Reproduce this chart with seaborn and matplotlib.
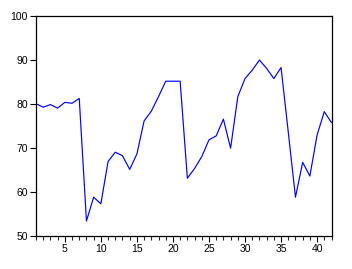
import matplotlib
matplotlib.use("Agg")
import matplotlib.pyplot as plt
import seaborn as sns
import pandas as pd
from matplotlib.ticker import MultipleLocator

obs = list(range(1, 43))
values = [80.0, 79.2, 79.8, 79.0, 80.3, 80.1, 81.2, 53.4, 58.8, 57.3,
          66.9, 69.0, 68.2, 65.1, 68.6, 76.1, 78.3, 81.6, 85.1, 85.1,
          85.1, 63.1, 65.3, 68.0, 71.8, 72.7, 76.5, 69.9, 81.6, 85.7,
          87.6, 89.9, 88.0, 85.7, 88.2, 73.6, 58.8, 66.7, 63.6, 72.9,
          78.2, 75.7]
yticks = [50, 60, 70, 80, 90, 100]
xticks = [5, 10, 15, 20, 25, 30, 35, 40]

df = pd.DataFrame({"obs": obs, "value": values})

sns.set_theme(style="ticks")
plt.rcParams['font.family'] = ['Liberation Sans', 'DejaVu Sans']

fig = plt.figure(figsize=(3.52, 2.69), dpi=100)
ax = fig.add_axes([36/352, 1 - 236/269, (331.5 - 36)/352, (236 - 15.5)/269])
sns.lineplot(data=df, x="obs", y="value", ax=ax, color="#0000ff", linewidth=0.85)
ax.set_xlim(1, 42)
ax.set_ylim(50, 100)
ax.set_xticks(xticks)
ax.set_yticks(yticks)
ax.xaxis.set_minor_locator(MultipleLocator(1))
ax.set_xlabel("")
ax.set_ylabel("")
for s in ax.spines.values():
    s.set_visible(True)
    s.set_linewidth(0.9)
    s.set_color("black")
ax.tick_params(axis="both", which="major", direction="out", length=4, width=0.8,
               labelsize=7.5, colors="black", pad=2)
ax.tick_params(axis="x", which="minor", direction="out", length=3, width=0.8)
ax.tick_params(axis="y", which="minor", length=0)
ax.tick_params(top=False, right=False)
fig.savefig("out.png", dpi=100)
